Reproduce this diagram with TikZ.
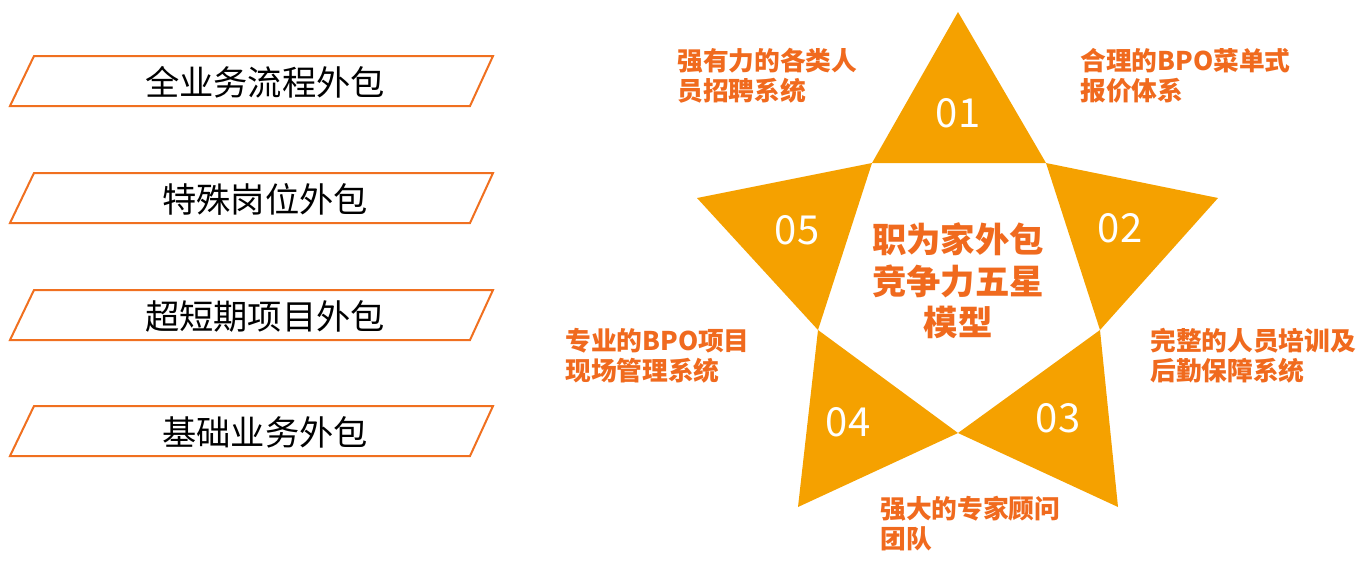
\documentclass[tikz,border=0pt]{standalone}
\usepackage{fontspec}
\setmainfont{Noto Sans CJK SC}
\newfontfamily\numf{Open Sans Light}
\definecolor{oline}{HTML}{F07020}
\definecolor{ofill}{HTML}{F5A100}
\definecolor{otext}{HTML}{F06A1E}
\begin{document}
\begin{tikzpicture}[x=0.75pt,y=-0.75pt,
  box/.style={draw=oline,line width=1.5pt},
  boxtxt/.style={font=\fontsize{25.7}{28}\selectfont,text=black},
  tri/.style={fill=ofill},
  num/.style={font=\fontsize{30}{32}\selectfont,text=white},
  lab/.style={font=\bfseries\fontsize{19.3}{22.5}\selectfont,text=otext,align=left,anchor=north west,inner sep=0pt},
  ctr/.style={font=\bfseries\fontsize{25.8}{31}\selectfont,text=otext,align=center}]
\useasboundingbox (0,0) rectangle (1370,561);
\foreach \y/\t/\n in {56/全业务流程外包/b1,173/特殊岗位外包/b2,290/超短期项目外包/b3,406/基础业务外包/b4}{
  \draw[box] (34,\y) -- (493,\y) -- (470,\y+50) -- (10,\y+50) -- cycle;
  \node[boxtxt] (\n) at (265,\y+26) {\t};
}
\coordinate (pA) at (872,163);
\coordinate (pB) at (1046,163);
\coordinate (pC) at (1100,330);
\coordinate (pD) at (958,433);
\coordinate (pE) at (818,330);
\coordinate (t1) at (958,12);
\coordinate (t2) at (1218,198);
\coordinate (t3) at (1118,507);
\coordinate (t4) at (798,507);
\coordinate (t5) at (697,198);
\fill[tri] (t1) -- (pB) -- (pA) -- cycle;
\fill[tri] (t2) -- (pC) -- (pB) -- cycle;
\fill[tri] (t3) -- (pD) -- (pC) -- cycle;
\fill[tri] (t4) -- (pE) -- (pD) -- cycle;
\fill[tri] (t5) -- (pA) -- (pE) -- cycle;
\node[num] (n1) at (958,113) {01};
\node[num] (n2) at (1120,228) {02};
\node[num] (n3) at (1058,418) {03};
\node[num] (n4) at (848,422) {04};
\node[num] (n5) at (797,230) {05};
\node[ctr] (c) at (958,281) {职为家外包\\竞争力五星\\模型};
\node[lab] (l1) at (677,48) {强有力的各类人\\员招聘系统};
\node[lab] (l2) at (1080,48) {合理的BPO菜单式\\报价体系};
\node[lab] (l3) at (1150,328) {完整的人员培训及\\后勤保障系统};
\node[lab] (l4) at (880,496) {强大的专家顾问\\团队};
\node[lab] (l5) at (565,328) {专业的BPO项目\\现场管理系统};
\end{tikzpicture}
\end{document}
